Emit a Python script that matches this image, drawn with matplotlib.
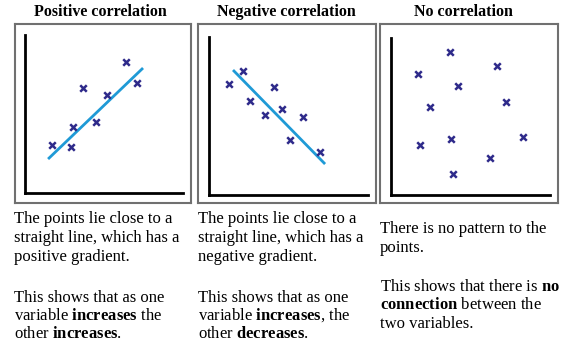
import matplotlib

matplotlib.use("Agg")
import matplotlib.pyplot as plt

W, H = 570, 352

# scatter points per panel (x, y on a 0-10 grid)
pos_x = [1.71, 2.91, 3.04, 3.67, 4.49, 5.19, 6.39, 7.09]
pos_y = [3.04, 2.91, 4.18, 6.65, 4.49, 6.20, 8.29, 6.96]
pos_line_x = [1.46, 7.47]
pos_line_y = [2.15, 7.91]

neg_x = [1.26, 2.14, 2.58, 3.52, 4.09, 4.59, 5.91, 5.09, 6.98]
neg_y = [7.03, 7.85, 5.95, 5.06, 6.84, 5.44, 4.94, 3.48, 2.72]
neg_line_x = [1.51, 7.30]
neg_line_y = [7.91, 1.96]

none_x = [1.70, 3.71, 6.67, 4.21, 2.45, 7.23, 1.82, 3.77, 8.30, 6.23, 3.90]
none_y = [7.71, 9.11, 8.22, 6.94, 5.61, 5.92, 3.18, 3.57, 3.69, 2.36, 1.34]

titles = ["Positive correlation", "Negative correlation", "No correlation"]

texts = [
    ["The points lie close to a", "straight line, which has a", "positive gradient."],
    ["The points lie close to a", "straight line, which has a", "negative gradient."],
    ["There is no pattern to the", "points."],
]
texts2 = [
    ["This shows that as one", r"variable $\mathbf{increases}$ the", r"other $\mathbf{increases}$."],
    ["This shows that as one", r"variable $\mathbf{increases}$, the", r"other $\mathbf{decreases}$."],
    [r"This shows that there is $\mathbf{no}$", r"$\mathbf{connection}$ between the", "two variables."],
]

plt.rcParams["font.family"] = "Liberation Serif"
plt.rcParams["mathtext.fontset"] = "custom"
plt.rcParams["mathtext.rm"] = "Liberation Serif"
plt.rcParams["mathtext.bf"] = "Liberation Serif:bold"

# pixel layout: outer box, inner L-axes, title centre, text left, text baselines
boxes = [(15, 24, 191, 203), (198, 24, 376, 203), (380, 24, 558, 203)]
inner = [(25, 35, 183, 193), (209, 37, 368, 195), (391, 38, 550, 195)]
title_cx = [100, 286, 463]
text_x = [14, 198, 380]
para1_y = [[223, 242, 261], [223, 242, 261], [233, 252]]
para2_y = [[302, 320, 338], [302, 320, 338], [291, 309, 328]]

MARK = "#2e2a8a"
LINE = "#1f9ad6"
FS = 12


def px_rect(x0, y0, x1, y1):
    return [x0 / W, 1 - y1 / H, (x1 - x0) / W, (y1 - y0) / H]


fig = plt.figure(figsize=(W / 100, H / 100), dpi=100)

series = [
    (pos_x, pos_y, pos_line_x, pos_line_y),
    (neg_x, neg_y, neg_line_x, neg_line_y),
    (none_x, none_y, None, None),
]

for i, (sx, sy, lx, ly) in enumerate(series):
    box = fig.add_axes(px_rect(*boxes[i]))
    box.set_xticks([])
    box.set_yticks([])
    for sp in box.spines.values():
        sp.set_color("#707070")
        sp.set_linewidth(1.5)

    ax = fig.add_axes(px_rect(*inner[i]))
    ax.patch.set_alpha(0)
    ax.set_xlim(0, 10)
    ax.set_ylim(0, 10)
    ax.set_xticks([])
    ax.set_yticks([])
    ax.spines["top"].set_visible(False)
    ax.spines["right"].set_visible(False)
    for s in ("left", "bottom"):
        ax.spines[s].set_color("black")
        ax.spines[s].set_linewidth(2)
    if lx is not None:
        ax.plot(lx, ly, color=LINE, lw=2, solid_capstyle="butt")
    ax.scatter(sx, sy, marker="x", s=22, color=MARK, linewidths=1.8, zorder=3)

    fig.text(title_cx[i] / W, 1 - 12 / H, titles[i], ha="center", va="center",
             fontsize=11.5, fontweight="bold")

    for line, y in zip(texts[i], para1_y[i]):
        fig.text(text_x[i] / W, 1 - y / H, line, ha="left", va="baseline", fontsize=FS)
    for line, y in zip(texts2[i], para2_y[i]):
        fig.text(text_x[i] / W, 1 - y / H, line, ha="left", va="baseline", fontsize=FS)

fig.savefig("out.png", dpi=100)
